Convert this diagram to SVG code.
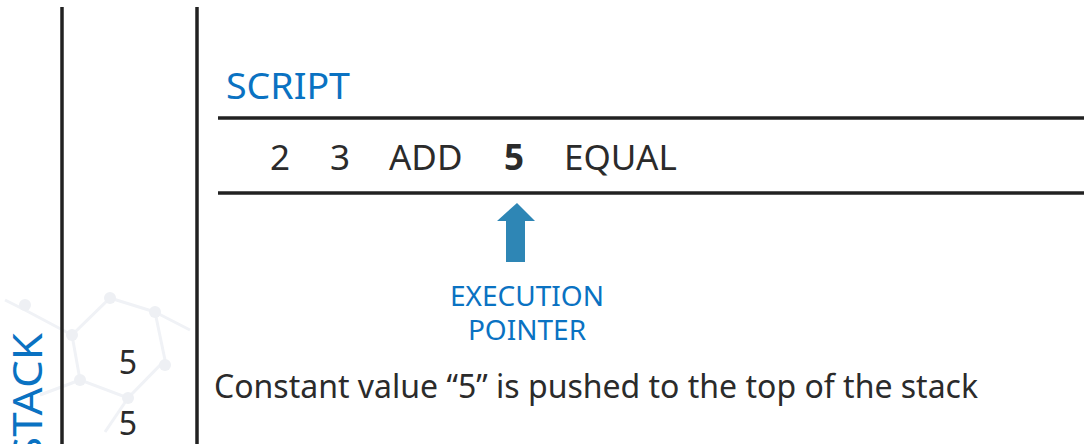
<svg xmlns="http://www.w3.org/2000/svg" width="1084" height="444" viewBox="0 0 1084 444">
<style>
.rule{stroke:#222;stroke-width:3.5;fill:none}
.blue{fill:#0A72C2;font-family:"Noto Sans","Open Sans",sans-serif}
.dark{fill:#2b2b2b;font-family:"Noto Sans","Open Sans",sans-serif}
.deco{stroke:#f0f2f6;stroke-width:3;fill:none}
.decoDot{fill:#eef0f4}
</style>
<rect width="1084" height="444" fill="#fff"/>
<g id="decoration">
<path class="deco" d="M5,300 L25,310 L72,335 L110,298 L155,312 L165,360 L128,398 L80,380 L72,335 M128,398 L105,432 M80,380 L40,395 M155,312 L190,330"/>
<circle class="decoDot" cx="25" cy="305" r="6"/><circle class="decoDot" cx="72" cy="335" r="6"/><circle class="decoDot" cx="110" cy="298" r="6"/><circle class="decoDot" cx="155" cy="312" r="6"/><circle class="decoDot" cx="165" cy="365" r="6"/><circle class="decoDot" cx="128" cy="398" r="6"/><circle class="decoDot" cx="80" cy="380" r="6"/>
</g>
<g id="frame">
<line class="rule" x1="62" y1="7" x2="62" y2="444"/>
<line class="rule" x1="197" y1="7" x2="197" y2="444"/>
<line class="rule" x1="218" y1="118" x2="1084" y2="118"/>
<line class="rule" x1="218" y1="193" x2="1084" y2="193"/>
</g>
<g id="script-label"><text class="blue" x="226" y="99" font-size="37" textLength="124" lengthAdjust="spacingAndGlyphs">SCRIPT</text></g>
<g id="script">
<text class="dark" y="170" font-size="35"><tspan x="270">2</tspan><tspan x="330">3</tspan><tspan x="389">ADD</tspan><tspan x="504" font-weight="bold">5</tspan><tspan x="564">EQUAL</tspan></text>
</g>
<g id="pointer">
<polygon points="517,203 535,221 525,221 525,262 506,262 506,221 497,221" fill="#2E86B5"/>
<text class="blue" x="527" y="306" font-size="28" text-anchor="middle">EXECUTION</text>
<text class="blue" x="527" y="340" font-size="28" text-anchor="middle">POINTER</text>
</g>
<g id="stack-label"><text class="blue" transform="translate(42,461) rotate(-90)" x="0" y="0" font-size="40" textLength="128" lengthAdjust="spacingAndGlyphs">STACK</text></g>
<g id="stack">
<text class="dark" x="128" y="374" font-size="32" text-anchor="middle">5</text>
<text class="dark" x="128" y="435" font-size="32" text-anchor="middle">5</text>
</g>
<g id="caption"><text class="dark" x="214" y="398" font-size="32">Constant value “5” is pushed to the top of the stack</text></g>
</svg>
